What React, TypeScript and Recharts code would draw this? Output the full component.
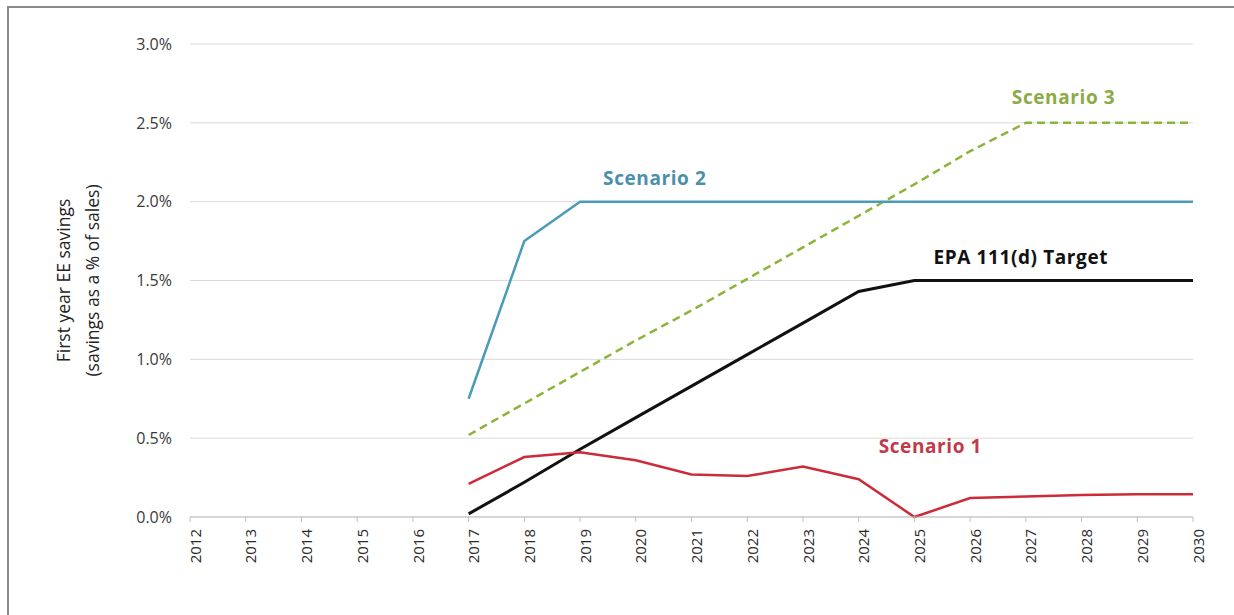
import { LineChart, Line, XAxis, YAxis, CartesianGrid, LabelList } from 'recharts'

const years = ['2012', '2013', '2014', '2015', '2016', '2017', '2018', '2019', '2020', '2021', '2022', '2023', '2024', '2025', '2026', '2027', '2028', '2029', '2030']

const scenario1 = [null, null, null, null, null, 0.21, 0.38, 0.41, 0.36, 0.27, 0.26, 0.32, 0.24, 0.0, 0.12, 0.13, 0.14, 0.145, 0.145]
const scenario2 = [null, null, null, null, null, 0.75, 1.75, 2.0, 2.0, 2.0, 2.0, 2.0, 2.0, 2.0, 2.0, 2.0, 2.0, 2.0, 2.0]
const scenario3 = [null, null, null, null, null, 0.52, 0.72, 0.92, 1.12, 1.31, 1.51, 1.71, 1.91, 2.11, 2.32, 2.5, 2.5, 2.5, 2.5]
const epaTarget = [null, null, null, null, null, 0.02, 0.22, 0.43, 0.63, 0.83, 1.03, 1.23, 1.43, 1.5, 1.5, 1.5, 1.5, 1.5, 1.5]

const yTicks = [0, 0.5, 1.0, 1.5, 2.0, 2.5, 3.0]

const chartData = years.map((year, i) => ({
  year,
  s1: scenario1[i],
  s2: scenario2[i],
  s3: scenario3[i],
  epa: epaTarget[i],
}))

const FONT = '"Open Sans", Lato, sans-serif'

// series name drawn once, next to one chosen point
function seriesLabel(text: string, atIndex: number, dx: number, dy: number, color: string) {
  return (props: any) => {
    if (props.index !== atIndex || props.x == null) return null
    return (
      <text
        x={Number(props.x) + dx}
        y={Number(props.y) + dy}
        textAnchor="middle"
        dominantBaseline="central"
        fill={color}
        fontSize={19}
        fontWeight={700}
        fontFamily={FONT}
        letterSpacing={0.6}
      >
        {text}
      </text>
    )
  }
}

function YTitle(props: any) {
  const vb = props.viewBox || {}
  const cy = (vb.y ?? 44) + (vb.height ?? 473) / 2
  return (
    <g fontFamily={FONT} fontSize={17.5} fill="#222">
      <text x={63} y={cy} textAnchor="middle" dominantBaseline="central" transform={`rotate(-90, 63, ${cy})`}>
        First year EE savings
      </text>
      <text x={92} y={cy} textAnchor="middle" dominantBaseline="central" transform={`rotate(-90, 92, ${cy})`}>
        (savings as a % of sales)
      </text>
    </g>
  )
}

export default function App() {
  return (
    <div style={{ position: 'absolute', left: 0, top: 0, width: 1234, height: 615, background: '#fff' }}>
      <div
        style={{
          position: 'absolute',
          left: 7,
          top: 6,
          width: 1240,
          height: 620,
          borderLeft: '2px solid #8a8a8a',
          borderTop: '2px solid #8a8a8a',
        }}
      />
      <LineChart
        width={1234}
        height={615}
        data={chartData}
        margin={{ top: 44, right: 41, left: 130, bottom: 0 }}
        style={{ position: 'absolute', left: 0, top: 0 }}
      >
        <CartesianGrid horizontal vertical={false} stroke="#d9d9d9" strokeWidth={1} />
        <XAxis
          dataKey="year"
          interval={0}
          height={98}
          stroke="#bfbfbf"
          tickSize={5}
          tickMargin={7}
          angle={-90}
          textAnchor="end"
          tick={{ fill: '#2a2a2a', fontSize: 15, fontFamily: FONT }}
        />
        <YAxis
          width={60}
          domain={[0, 3]}
          ticks={yTicks}
          axisLine={false}
          tickLine={false}
          tickMargin={12}
          tickFormatter={(v: number) => `${v.toFixed(1)}%`}
          tick={{ fill: '#3a3a3a', fontSize: 16, fontFamily: FONT }}
          label={<YTitle />}
        />
        <Line
          type="linear"
          dataKey="s3"
          stroke="#8db33a"
          strokeWidth={2.5}
          strokeDasharray="8 5"
          dot={false}
          isAnimationActive={false}
        >
          <LabelList dataKey="s3" content={seriesLabel('Scenario 3', 16, -18, -26, '#8aab45')} />
        </Line>
        <Line type="linear" dataKey="s2" stroke="#4a9bb8" strokeWidth={2.5} dot={false} isAnimationActive={false}>
          <LabelList dataKey="s2" content={seriesLabel('Scenario 2', 8, 19, -24, '#4a90ab')} />
        </Line>
        <Line type="linear" dataKey="epa" stroke="#111" strokeWidth={3} dot={false} isAnimationActive={false}>
          <LabelList dataKey="epa" content={seriesLabel('EPA 111(d) Target', 15, -5, -24, '#111')} />
        </Line>
        <Line type="linear" dataKey="s1" stroke="#cc2b3a" strokeWidth={2.5} dot={false} isAnimationActive={false}>
          <LabelList dataKey="s1" content={seriesLabel('Scenario 1', 13, 16, -71, '#c03a4a')} />
        </Line>
      </LineChart>
    </div>
  )
}
